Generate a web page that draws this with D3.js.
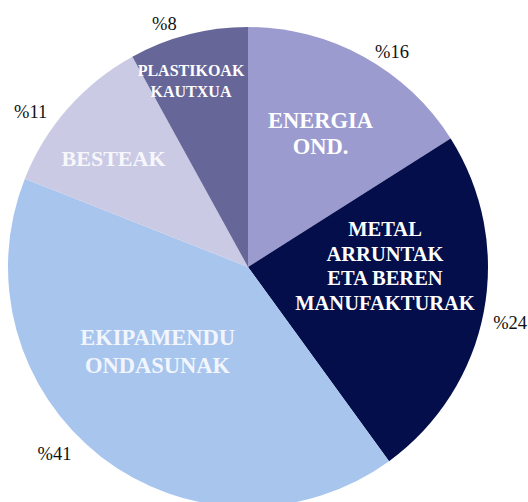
<!DOCTYPE html>
<html><head><meta charset="utf-8">
<script src="https://cdn.jsdelivr.net/npm/d3@7"></script>
<style>html,body{margin:0;padding:0;background:#fff;overflow:hidden}</style>
</head><body>
<svg id="chart" width="528" height="502"></svg>
<script>
// Data
const categories = ["ENERGIA OND.", "METAL ARRUNTAK ETA BEREN MANUFAKTURAK", "EKIPAMENDU ONDASUNAK", "BESTEAK", "PLASTIKOAK KAUTXUA"];
const values = [16, 24, 41, 11, 8];
const percentLabels = ["%16", "%24", "%41", "%11", "%8"];
const labelLines = [["ENERGIA", "OND."], ["METAL", "ARRUNTAK", "ETA BEREN", "MANUFAKTURAK"], ["EKIPAMENDU", "ONDASUNAK"], ["BESTEAK"], ["PLASTIKOAK", "KAUTXUA"]];

// Styles / layout
const colors = ["#9b9bcf", "#030e4b", "#a8c5ee", "#cacae5", "#666699"];
const innerFont = [22.5, 20.5, 22.5, 22, 16];
const innerLH = [26, 24.5, 28, 26, 21];
const innerColor = ["#ffffff", "#ffffff", "#f2f6fc", "#f7f7fb", "#ffffff"];
const innerPolar = [[28.5, 152], [89.6, 137], [226.8, 124], [309, 173], [343, 195]]; // degrees, radius
const outerPolar = [[33.8, 259], [102, 268], [226, 269], [305.5, 267], [341, 257]];

const W = 528, H = 502, R = 240, cx = 248, cy = 267;
const svg = d3.select("#chart");
const g = svg.append("g").attr("transform", `translate(${cx},${cy})`);

const pie = d3.pie().sort(null).value(d => d).startAngle(0).endAngle(2 * Math.PI);
const arcs = pie(values);
const arc = d3.arc().innerRadius(0).outerRadius(R);

g.selectAll("path.slice").data(arcs).enter().append("path")
  .attr("class", "slice")
  .attr("d", arc)
  .attr("fill", (d, i) => colors[i]);

function polar(a, r) {
  const t = a * Math.PI / 180;
  return [r * Math.sin(t), -r * Math.cos(t)];
}

const font = "'Liberation Serif','Times New Roman',serif";

arcs.forEach((d, i) => {
  const [x, y] = polar(innerPolar[i][0], innerPolar[i][1]);
  const lines = labelLines[i];
  const t = g.append("text")
    .attr("x", x).attr("y", y)
    .attr("text-anchor", "middle")
    .attr("font-family", font)
    .attr("font-weight", "bold")
    .attr("font-size", innerFont[i])
    .attr("fill", innerColor[i]);
  lines.forEach((ln, k) => {
    t.append("tspan")
      .attr("x", x)
      .attr("y", y + (k - (lines.length - 1) / 2) * innerLH[i])
      .attr("dominant-baseline", "central")
      .text(ln);
  });
  const [ox, oy] = polar(outerPolar[i][0], outerPolar[i][1]);
  g.append("text")
    .attr("x", ox).attr("y", oy)
    .attr("text-anchor", "middle")
    .attr("dominant-baseline", "central")
    .attr("font-family", font)
    .attr("font-size", 18.5)
    .attr("fill", "#111")
    .text(percentLabels[i]);
});
</script>
</body></html>
